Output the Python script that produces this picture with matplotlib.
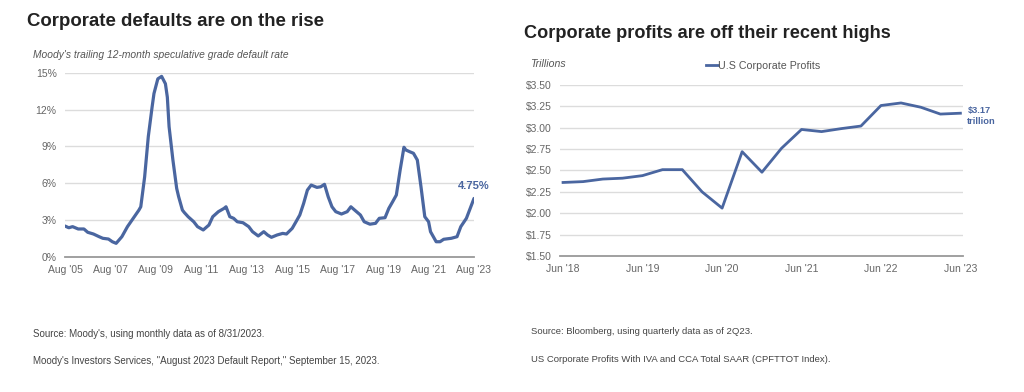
import matplotlib
matplotlib.use('Agg')
import matplotlib.pyplot as plt
import matplotlib.dates as mdates
import pandas as pd

# Moody's trailing 12-month speculative grade default rate (%)
default_dates = [
    '2005-08', '2005-10', '2005-12', '2006-03', '2006-06', '2006-08', '2006-11',
    '2007-02', '2007-04', '2007-07', '2007-09', '2007-11', '2008-02', '2008-05',
    '2008-11', '2008-12', '2009-02', '2009-04', '2009-06', '2009-07', '2009-09',
    '2009-11', '2010-01', '2010-02', '2010-03', '2010-05', '2010-07', '2010-08',
    '2010-10', '2010-11', '2011-01', '2011-04', '2011-06', '2011-09', '2011-11',
    '2011-12', '2012-02', '2012-05', '2012-08', '2012-09', '2012-11', '2013-01',
    '2013-03', '2013-06', '2013-09', '2013-11', '2014-02', '2014-05', '2014-07',
    '2014-09', '2014-12', '2015-03', '2015-05', '2015-08', '2015-10', '2015-12',
    '2016-02', '2016-04', '2016-06', '2016-09', '2016-11', '2017-01', '2017-03',
    '2017-05', '2017-07', '2017-10', '2018-01', '2018-03', '2018-05', '2018-08',
    '2018-10', '2019-01', '2019-04', '2019-06', '2019-09', '2019-11', '2020-01',
    '2020-03', '2020-05', '2020-07', '2020-08', '2020-10', '2020-12', '2021-02',
    '2021-04', '2021-06', '2021-08', '2021-09', '2021-12', '2022-02', '2022-04',
    '2022-08', '2022-11', '2023-01', '2023-04', '2023-06', '2023-08',
]
default_rate = [
    2.5, 2.36, 2.45, 2.26, 2.26, 1.99, 1.85,
    1.63, 1.5, 1.44, 1.22, 1.09, 1.63, 2.45,
    3.8, 4.07, 6.5, 9.8, 12.2, 13.3, 14.5,
    14.7, 14.1, 13.0, 10.6, 7.9, 5.57, 4.9,
    3.8, 3.6, 3.26, 2.85, 2.45, 2.18, 2.45,
    2.58, 3.26, 3.67, 3.94, 4.07, 3.26, 3.13,
    2.85, 2.77, 2.45, 2.04, 1.69, 2.04, 1.77,
    1.58, 1.77, 1.9, 1.85, 2.31, 2.85, 3.4,
    4.35, 5.43, 5.84, 5.65, 5.7, 5.9, 4.89,
    4.07, 3.67, 3.48, 3.67, 4.07, 3.8, 3.4,
    2.85, 2.65, 2.72, 3.13, 3.18, 3.94, 4.48,
    5.03, 7.07, 8.92, 8.7, 8.56, 8.43, 7.88,
    5.7, 3.26, 2.85, 2.04, 1.22, 1.22, 1.42,
    1.5, 1.63, 2.45, 3.13, 3.94, 4.75,
]
default_ticks = ['2005-08', '2007-08', '2009-08', '2011-08', '2013-08',
                 '2015-08', '2017-08', '2019-08', '2021-08', '2023-08']
default_yticks = [0, 3, 6, 9, 12, 15]

# US corporate profits, quarterly, trillions of dollars
profit_dates = [
    '2018-06', '2018-09', '2018-12', '2019-03', '2019-06', '2019-09', '2019-12',
    '2020-03', '2020-06', '2020-09', '2020-12', '2021-03', '2021-06', '2021-09',
    '2021-12', '2022-03', '2022-06', '2022-09', '2022-12', '2023-03', '2023-06',
]
profits = [
    2.36, 2.37, 2.40, 2.41, 2.44, 2.51, 2.51,
    2.25, 2.06, 2.72, 2.48, 2.76, 2.98, 2.955,
    2.99, 3.02, 3.26, 3.29, 3.24, 3.16, 3.17,
]
profit_ticks = ['2018-06', '2019-06', '2020-06', '2021-06', '2022-06', '2023-06']
profit_yticks = [1.5, 1.75, 2.0, 2.25, 2.5, 2.75, 3.0, 3.25, 3.5]

LINE = '#4a66a0'
GRID = '#dcdcdc'
TICK = '#666666'
TITLE = '#222222'

plt.rcParams['font.family'] = ['Liberation Sans', 'DejaVu Sans']


def to_dates(items):
    return pd.to_datetime([s + '-01' for s in items])


def style_axis(ax):
    for side in ['top', 'right', 'left']:
        ax.spines[side].set_visible(False)
    ax.spines['bottom'].set_color('#999999')
    ax.spines['bottom'].set_linewidth(1.3)
    ax.grid(axis='y', color=GRID, linewidth=1.0)
    ax.set_axisbelow(True)
    ax.tick_params(length=0, labelsize=7.5, labelcolor=TICK, pad=6)


fig = plt.figure(figsize=(10.24, 3.92), dpi=100)

# left panel
ax1 = fig.add_axes([65 / 1024, 1 - 256.7 / 392, 409 / 1024, 184 / 392])
d1 = to_dates(default_dates)
ax1.plot(d1, default_rate, color=LINE, linewidth=2.3, solid_capstyle='round')
ax1.set_ylim(0, 15)
ax1.set_yticks(default_yticks)
ax1.set_yticklabels(['%d%%' % v for v in default_yticks])
t1 = to_dates(default_ticks)
ax1.set_xticks(t1)
ax1.set_xticklabels(["Aug '%s" % s[2:4] for s in default_ticks])
ax1.set_xlim(t1[0], t1[-1])
style_axis(ax1)
ax1.annotate('%.2f%%' % default_rate[-1], (d1[-1], default_rate[-1]),
             xytext=(0, 7), textcoords='offset points', ha='center',
             fontsize=8, fontweight='bold', color=LINE, annotation_clip=False)

fig.text(27 / 1024, 1 - 21 / 392, 'Corporate defaults are on the rise',
         fontsize=13.4, fontweight='bold', color=TITLE, va='center')
fig.text(33 / 1024, 1 - 55 / 392,
         "Moody's trailing 12-month speculative grade default rate",
         fontsize=7.4, style='italic', color='#555555', va='center')
fig.text(33 / 1024, 1 - 334 / 392,
         "Source: Moody's, using monthly data as of 8/31/2023.",
         fontsize=7, color='#444444', va='center')
fig.text(33 / 1024, 1 - 361 / 392,
         'Moody\'s Investors Services, "August 2023 Default Report," September 15, 2023.',
         fontsize=7, color='#444444', va='center')

# right panel
ax2 = fig.add_axes([560 / 1024, 1 - 256 / 392, 403 / 1024, 171 / 392])
d2 = to_dates(profit_dates)
ax2.plot(d2, profits, color=LINE, linewidth=2.0, label='U.S Corporate Profits')
ax2.set_ylim(1.5, 3.5)
ax2.set_yticks(profit_yticks)
ax2.set_yticklabels(['$%.2f' % v for v in profit_yticks])
t2 = to_dates(profit_ticks)
ax2.set_xticks(t2)
ax2.set_xticklabels(["Jun '%s" % s[2:4] for s in profit_ticks])
ax2.set_xlim(d2[0] - pd.Timedelta(days=14), d2[-1] + pd.Timedelta(days=12))
style_axis(ax2)
ax2.legend(loc='lower left', bbox_to_anchor=(706 / 1024, 1 - 71 / 392),
           bbox_transform=fig.transFigure, frameon=False, fontsize=7.7,
           handlelength=1.1, handletextpad=0.0, labelcolor='#555555',
           borderaxespad=0, borderpad=0)
ax2.annotate('$%.2f\ntrillion' % profits[-1], (d2[-1], profits[-1]),
             xytext=(5, -2), textcoords='offset points', ha='left', va='center',
             fontsize=6.7, fontweight='bold', color=LINE, linespacing=1.3,
             annotation_clip=False)

fig.text(524 / 1024, 1 - 33 / 392, 'Corporate profits are off their recent highs',
         fontsize=13.1, fontweight='bold', color=TITLE, va='center')
fig.text(530 / 1024, 1 - 64 / 392, 'Trillions',
         fontsize=7.6, style='italic', color='#555555', va='center')
fig.text(531 / 1024, 1 - 332 / 392,
         'Source: Bloomberg, using quarterly data as of 2Q23.',
         fontsize=6.8, color='#444444', va='center')
fig.text(531 / 1024, 1 - 359 / 392,
         'US Corporate Profits With IVA and CCA Total SAAR (CPFTTOT Index).',
         fontsize=6.8, color='#444444', va='center')

fig.savefig('out.png', dpi=100, facecolor='white')
